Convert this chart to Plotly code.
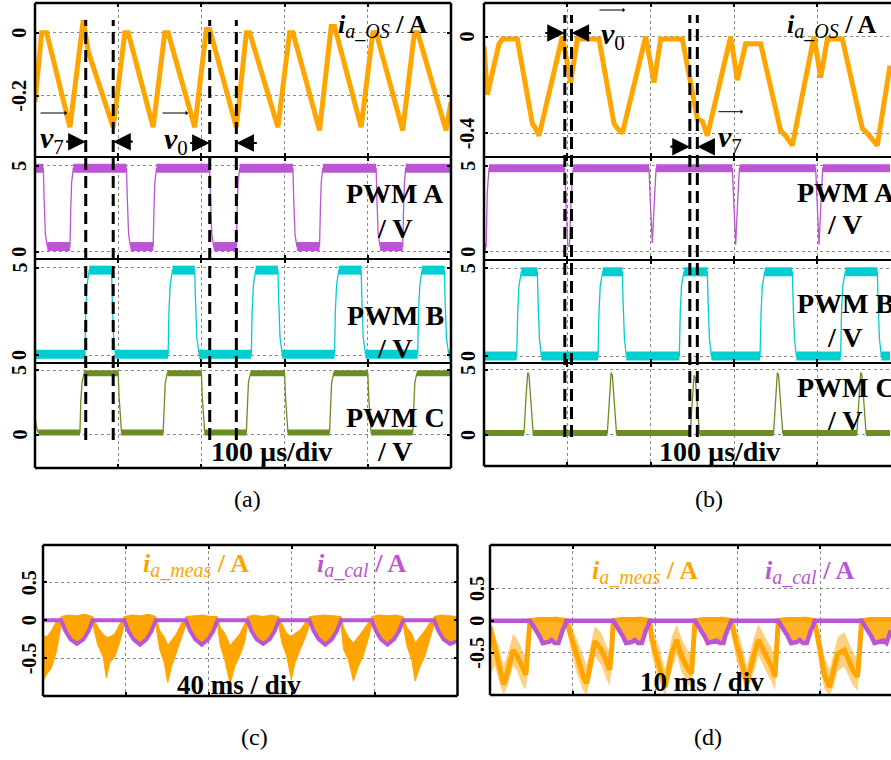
import plotly.graph_objects as go

W, H = 891, 760
SERIF = "Liberation Serif"
ORANGE = "#FFA500"
PURPLE = "#BA55D3"
CYAN = "#00CED1"
GREEN = "#6B8E23"

# ---------------- (a) 100 us/div, time in us ----------------
a_cur_t = [0, 8, 14, 42, 58, 64, 94, 108, 112, 142, 156, 160, 192, 206, 210, 242,
           254, 258, 292, 306, 310, 342, 356, 360, 392, 406, 410, 442, 456, 460, 494, 500]
a_cur_v = [-0.22, 0.0, 0.0, -0.30, 0.04, -0.06, -0.30, 0.0, 0.0, -0.30, 0.0, 0.0, -0.30, 0.01, 0.01, -0.30,
           0.0, 0.0, -0.30, 0.0, 0.0, -0.31, 0.02, 0.02, -0.30, 0.0, 0.0, -0.31, 0.0, 0.0, -0.31, -0.22]

a_pwmA_t = [0, 10, 11, 12.5, 14.8, 42, 43, 44, 46, 110, 111, 112.5, 114.8, 142, 143, 144, 146,
            210, 211, 212.5, 214.8, 242, 243, 244, 246, 310, 311, 312.5, 314.8, 342, 343, 344, 346,
            410, 411, 412.5, 414.8, 442, 443, 444, 445.5, 500]
a_pwmA_v = [4.85, 4.85, 3.0, 1.0, 0.3, 0.3, 2.5, 4.0, 4.85, 4.85, 3.0, 1.0, 0.3, 0.3, 2.5, 4.0, 4.85,
            4.85, 3.0, 1.0, 0.3, 0.3, 2.5, 4.0, 4.85, 4.85, 3.0, 1.0, 0.3, 0.3, 2.5, 4.0, 4.85,
            4.85, 3.0, 1.0, 0.3, 0.3, 2.5, 4.0, 4.85, 4.85]

a_pwmB_t = [0, 60, 61, 62.5, 65.2, 92, 93, 94.5, 96.5, 160, 161, 162.5, 165.2, 192, 193, 194.5, 197.2,
            260, 261, 262.5, 265.2, 292, 293, 294.5, 297.2, 360, 361, 362.5, 365.2, 392, 393, 394.5, 397.2,
            460, 461, 462.5, 465.2, 492, 493, 494.5, 497.2, 500]
a_pwmB_v = [0.05, 0.05, 2.5, 4.0, 4.85, 4.85, 3.0, 1.0, 0.05, 0.05, 2.5, 4.0, 4.85, 4.85, 3.0, 1.0, 0.05,
            0.05, 2.5, 4.0, 4.85, 4.85, 3.0, 1.0, 0.05, 0.05, 2.5, 4.0, 4.85, 4.85, 3.0, 1.0, 0.05,
            0.05, 2.5, 4.0, 4.85, 4.85, 3.0, 1.0, 0.05, 0.05]

a_pwmC_t = [0, 2, 4, 54, 55, 56.5, 59, 100, 101, 102.5, 104, 154, 155, 156.5, 159, 200, 201, 202.5, 204,
            254, 255, 256.5, 259, 300, 301, 302.5, 304, 354, 355, 356.5, 359, 400, 401, 402.5, 404,
            454, 455, 456.5, 459, 500]
a_pwmC_v = [1.4, 0.5, 0.15, 0.15, 2.5, 4.0, 4.75, 4.75, 3.0, 1.0, 0.15, 0.15, 2.5, 4.0, 4.75, 4.75, 3.0, 1.0, 0.15,
            0.15, 2.5, 4.0, 4.75, 4.75, 3.0, 1.0, 0.15, 0.15, 2.5, 4.0, 4.75, 4.75, 3.0, 1.0, 0.15,
            0.15, 2.5, 4.0, 4.75, 4.75]

a_marks_t = [61, 94, 210, 242]          # dashed cursor instants (us)

# ---------------- (b) 100 us/div, time in us ----------------
b_cur_t = [0, 4, 18, 22, 40, 58, 62, 66, 94, 104, 112, 138, 156, 160, 166, 194, 204, 212, 238,
           256, 262, 268, 296, 304, 314, 332, 356, 362, 370, 396, 404, 412, 430, 454, 460, 472, 487.2]
b_cur_v = [-0.04, -0.24, -0.03, -0.01, -0.01, -0.36, -0.38, -0.41, 0.0, -0.19, -0.01, -0.01, -0.36, -0.38,
           -0.40, 0.0, -0.19, -0.01, -0.01, -0.34, -0.35, -0.41, 0.0, -0.18, -0.03, -0.03, -0.39, -0.41,
           -0.45, 0.0, -0.17, -0.01, -0.01, -0.38, -0.40, -0.45, -0.12]

b_pwmA_t = [0, 2.5, 4, 6, 96.8, 98.5, 100.5, 102.5, 104.5, 107, 198, 199.5, 202, 204.5, 206.5,
            298, 299.5, 302, 304.5, 306.5, 398, 399.5, 402, 404.5, 406.5, 487.2]
b_pwmA_v = [0.3, 0.3, 3.5, 4.85, 4.85, 3.0, 0.35, 0.3, 3.0, 4.85, 4.85, 3.0, 0.5, 3.0, 4.85,
            4.85, 3.0, 0.4, 3.0, 4.85, 4.85, 3.0, 0.4, 3.0, 4.85, 4.85]

b_pwmB_t = [0, 39.2, 40.5, 42, 44.8, 64, 65, 66.5, 68.8, 136.8, 138, 139.5, 142.4, 166, 167, 168.5, 170.8,
            234.4, 235.5, 237, 240, 268, 269, 270.5, 272.8, 331.2, 332.5, 334, 336.8, 370, 371, 372.5, 374.8,
            428, 429, 430.5, 433.6, 472, 473, 474.5, 476.8, 487.2]
b_pwmB_v = [0.0, 0.0, 2.5, 4.0, 4.8, 4.8, 3.0, 1.0, 0.0, 0.0, 2.5, 4.0, 4.8, 4.8, 3.0, 1.0, 0.0,
            0.0, 2.5, 4.0, 4.8, 4.8, 3.0, 1.0, 0.0, 0.0, 2.5, 4.0, 4.8, 4.8, 3.0, 1.0, 0.0,
            0.0, 2.5, 4.0, 4.8, 4.8, 3.0, 1.0, 0.0, 0.0]

b_pwmC_t = [0, 48, 50.5, 52.5, 54, 56.5, 59, 148, 150.5, 152.5, 154, 156.5, 159,
            247.5, 250, 252, 253.5, 256, 258.5, 347.5, 350, 352, 353.5, 356, 358.5,
            447.5, 450, 452, 453.5, 456, 458.5, 487.2]
b_pwmC_v = [0.15, 0.15, 3.0, 4.8, 4.6, 2.0, 0.15, 0.15, 3.0, 4.8, 4.6, 2.0, 0.15,
            0.15, 3.0, 4.6, 4.4, 2.0, 0.15, 0.15, 3.0, 4.8, 4.6, 2.0, 0.15,
            0.15, 3.0, 4.8, 4.6, 2.0, 0.15, 0.15]

b_marks_t = [97, 105, 247, 256]

# ---------------- (c) 40 ms/div, time in ms ----------------
c_cal_t = [0, 8.8, 10.8, 13.3, 16.4, 19.5, 22.0, 24.0,
           39.2, 41.2, 43.7, 46.8, 49.9, 52.4, 54.4,
           69.0, 71.0, 73.5, 76.6, 79.7, 82.2, 84.2,
           98.6, 100.6, 103.1, 106.2, 109.3, 111.8, 113.8,
           128.6, 130.6, 133.1, 136.2, 139.3, 141.8, 143.8,
           158.6, 160.6, 163.1, 166.2, 169.3, 171.8, 173.8,
           188.8, 190.8, 193.3, 196.4, 200]
c_cal_v = [0, 0, -0.14, -0.25, -0.31, -0.25, -0.14, 0,
           0, -0.14, -0.25, -0.32, -0.25, -0.14, 0,
           0, -0.14, -0.25, -0.32, -0.25, -0.14, 0,
           0, -0.14, -0.25, -0.31, -0.25, -0.14, 0,
           0, -0.14, -0.25, -0.32, -0.25, -0.14, 0,
           0, -0.14, -0.25, -0.32, -0.25, -0.14, 0,
           0, -0.14, -0.25, -0.31, -0.27]

c_meas_t = [0, 1.6, 4, 6.4, 8.8, 12, 16, 20,
            24, 26.5, 29, 30.6, 32.2, 34.6, 37, 39.2, 43, 47, 51,
            54.4, 56.3, 58.5, 60.2, 62, 64.3, 66.7, 69, 73, 77, 81,
            84.2, 85.5, 87.7, 90.3, 92.5, 94.9, 97.3, 98.6, 102, 106, 110,
            113.8, 115.2, 117.6, 119.8, 121.6, 124, 126.4, 128.6, 132, 136, 140,
            143.8, 145, 147.3, 149.8, 152.1, 154.5, 157, 158.6, 162, 166, 170,
            173.8, 175.5, 177.9, 179.6, 181.9, 184.3, 186.7, 188.8, 192, 196, 200]
c_meas_hi = [-0.19, -0.22, -0.14, -0.02, 0.05, 0.07, 0.06, 0.08,
             0.05, -0.09, -0.18, -0.22, -0.22, -0.18, -0.05, 0.05, 0.07, 0.06, 0.08,
             0.05, -0.13, -0.22, -0.33, -0.26, -0.18, -0.05, 0.05, 0.06, 0.07, 0.05,
             0.05, -0.09, -0.17, -0.33, -0.26, -0.18, -0.05, 0.05, 0.07, 0.05, 0.07,
             0.05, -0.05, -0.17, -0.22, -0.17, -0.13, -0.04, 0.05, 0.06, 0.07, 0.06,
             0.05, -0.09, -0.22, -0.30, -0.22, -0.13, -0.03, 0.05, 0.07, 0.06, 0.07,
             0.05, -0.09, -0.17, -0.30, -0.22, -0.13, -0.03, 0.05, 0.07, 0.06, 0.05]
c_meas_lo = [-0.80, -0.72, -0.63, -0.42, -0.06, 0.0, 0.0, 0.0,
             -0.06, -0.33, -0.48, -0.76, -0.56, -0.48, -0.29, -0.06, 0.0, 0.0, 0.0,
             -0.06, -0.38, -0.56, -0.82, -0.61, -0.43, -0.25, -0.06, 0.0, 0.0, 0.0,
             -0.06, -0.33, -0.52, -0.84, -0.61, -0.47, -0.29, -0.06, 0.0, 0.0, 0.0,
             -0.06, -0.29, -0.47, -0.78, -0.56, -0.39, -0.24, -0.06, 0.0, 0.0, 0.0,
             -0.06, -0.38, -0.52, -0.80, -0.61, -0.47, -0.24, -0.06, 0.0, 0.0, 0.0,
             -0.06, -0.33, -0.52, -0.80, -0.61, -0.47, -0.24, -0.06, 0.0, 0.0, -0.05]

# ---------------- (d) 10 ms/div, time in ms ----------------
d_cal_t = [0, 4.84, 5.19, 5.59, 5.99, 6.39, 7.14, 7.44, 7.84, 8.29, 8.49, 8.79, 9.09, 9.24,
           14.93, 15.28, 15.68, 16.08, 16.48, 17.23, 17.53, 17.93, 18.38, 18.58, 18.88, 19.18, 19.33,
           24.82, 25.17, 25.57, 25.97, 26.37, 27.12, 27.42, 27.82, 28.27, 28.47, 28.77, 29.07, 29.22,
           34.9, 35.25, 35.65, 36.05, 36.45, 37.2, 37.5, 37.9, 38.35, 38.55, 38.85, 39.15, 39.3,
           45.0, 45.35, 45.75, 46.15, 46.55, 47.3, 47.6, 48.0, 48.3, 48.55]
d_cal_v = [0, 0, -0.07, -0.15, -0.24, -0.35, -0.33, -0.30, -0.35, -0.35, -0.24, -0.15, -0.07, 0,
           0, -0.07, -0.15, -0.24, -0.35, -0.33, -0.30, -0.35, -0.35, -0.24, -0.15, -0.07, 0,
           0, -0.07, -0.15, -0.24, -0.35, -0.33, -0.31, -0.35, -0.35, -0.24, -0.15, -0.07, 0,
           0, -0.07, -0.15, -0.24, -0.35, -0.33, -0.30, -0.35, -0.35, -0.24, -0.15, -0.07, 0,
           0, -0.07, -0.15, -0.24, -0.35, -0.33, -0.31, -0.35, -0.24, -0.15]

d_meas_t = [0, 0.6, 1.2, 1.65, 2.2, 2.8, 3.25, 3.65, 4.05, 4.35, 4.6, 4.84, 6.0, 7.0, 8.0,
            9.24, 9.7, 10.5, 11.3, 11.7, 12.3, 12.7, 13.5, 14.1, 14.5, 14.75, 14.93, 16.0, 17.1, 18.2,
            19.33, 19.6, 20.4, 21.2, 22.0, 22.6, 23.2, 24.0, 24.4, 24.65, 24.82, 26.0, 27.0, 28.1,
            29.22, 29.7, 30.3, 31.1, 31.9, 32.5, 33.3, 34.1, 34.5, 34.75, 34.9, 36.0, 37.1, 38.2,
            39.3, 39.9, 40.5, 41.1, 41.6, 42.1, 42.9, 43.9, 44.5, 44.8, 45.0, 46.3, 47.5, 48.55]
d_meas_mid = [-0.10, -0.46, -0.77, -1.00, -0.77, -0.46, -0.54, -0.67, -0.80, -0.85, -0.40, 0.0, 0.02, 0.02, 0.02,
              0.0, -0.20, -0.56, -0.88, -0.98, -0.56, -0.32, -0.46, -0.67, -0.77, -0.40, 0.0, 0.02, 0.02, 0.02,
              0.0, -0.30, -0.67, -1.04, -0.52, -0.30, -0.56, -0.77, -0.83, -0.40, 0.0, 0.02, 0.02, 0.02,
              0.0, -0.30, -0.56, -0.98, -0.56, -0.30, -0.52, -0.72, -0.88, -0.40, 0.0, 0.02, 0.02, 0.02,
              0.0, -0.45, -0.85, -1.04, -0.80, -0.52, -0.46, -0.77, -0.88, -0.40, 0.0, 0.02, 0.02, 0.02]
d_meas_hi = [0.02, -0.20, -0.45, -0.70, -0.50, -0.20, -0.28, -0.38, -0.50, -0.55, -0.10, 0.04, 0.06, 0.05, 0.07,
             0.04, -0.02, -0.28, -0.58, -0.70, -0.30, -0.08, -0.20, -0.40, -0.48, -0.10, 0.04, 0.06, 0.05, 0.07,
             0.04, -0.08, -0.38, -0.76, -0.26, -0.06, -0.28, -0.48, -0.55, -0.10, 0.04, 0.06, 0.05, 0.07,
             0.04, -0.08, -0.28, -0.70, -0.28, -0.06, -0.24, -0.44, -0.60, -0.10, 0.04, 0.06, 0.05, 0.07,
             0.04, -0.18, -0.56, -0.76, -0.52, -0.26, -0.18, -0.48, -0.60, -0.10, 0.04, 0.06, 0.05, 0.06]
d_meas_lo = [-0.85, -0.70, -1.00, -1.16, -1.00, -0.70, -0.78, -0.92, -1.04, -1.08, -0.70, -0.04, 0.0, 0.0, 0.0,
             -0.04, -0.42, -0.82, -1.10, -1.16, -0.82, -0.56, -0.70, -0.92, -1.02, -0.70, -0.04, 0.0, 0.0, 0.0,
             -0.04, -0.54, -0.92, -1.16, -0.78, -0.54, -0.80, -1.00, -1.06, -0.70, -0.04, 0.0, 0.0, 0.0,
             -0.04, -0.54, -0.82, -1.14, -0.82, -0.54, -0.76, -0.96, -1.10, -0.70, -0.04, 0.0, 0.0, 0.0,
             -0.04, -0.72, -1.08, -1.16, -1.04, -0.78, -0.72, -1.00, -1.10, -0.70, -0.04, 0.0, 0.0, 0.0]


def px(x):
    return x / W


def py(y):
    return 1 - y / H


def flat_runs(t, v):
    """Segments where the level is held constant (drawn as the thick noise band)."""
    xs, ys = [], []
    for i in range(len(t) - 1):
        if v[i] == v[i + 1]:
            xs += [t[i], t[i + 1], None]
            ys += [v[i], v[i + 1], None]
    return xs, ys


fig = go.Figure()
layout_axes = {}
ann = []

# subplot geometry: (id, x px span, y px span, x range, y range, x ticks, y ticks, y tick text, label x px)
panels = [
    ("1", (35, 451), (3, 157), [0, 500], [-0.3946, 0.0943], [100, 200, 300, 400], [0, -0.2], ["0", "-0.2"], 19),
    ("2", (35, 451), (157, 259), [0, 500], [-0.424, 5.506], [100, 200, 300, 400], [0, 5], ["0", "5"], 19),
    ("3", (35, 451), (259, 363), [0, 500], [-0.457, 5.486], [100, 200, 300, 400], [0, 5], ["0", "5"], 19),
    ("4", (35, 451), (363, 468), [0, 500], [-2.597, 5.543], [100, 200, 300, 400], [0, 5], ["0", "5"], 19),
    ("5", (484, 891), (3, 157), [0, 488.4], [-0.498, 0.139], [100, 200, 300, 400], [0, -0.4], ["0", "-0.4"], 467),
    ("6", (484, 891), (157, 260), [0, 488.4], [-0.483, 5.506], [100, 200, 300, 400], [0, 5], ["0", "5"], 468),
    ("7", (484, 891), (260, 363), [0, 488.4], [-0.399, 5.473], [100, 200, 300, 400], [0, 5], ["0", "5"], 468),
    ("8", (484, 891), (363, 466), [0, 488.4], [-2.385, 5.538], [100, 200, 300, 400], [0, 5], ["0", "5"], 468),
    ("9", (43, 457.5), (545, 696), [0, 200], [-0.996, 0.991], [40, 80, 120, 160], [-0.5, 0, 0.5], ["-0.5", "0", "0.5"], 29),
    ("10", (490, 891), (545, 695), [0, 48.55], [-1.165, 1.19], [10, 20, 30, 40], [-0.5, 0, 0.5], ["-0.5", "0", "0.5"], 477),
]

grid = dict(showgrid=True, gridcolor="#8a8a8a", griddash="dot", gridwidth=1.2, zeroline=False,
            showline=False, ticks="inside", ticklen=4, tickwidth=1.5, tickcolor="black", fixedrange=True)

for name, (x0, x1), (yt, yb), xr, yr, xt, yt_vals, yt_text, lab_x in panels:
    xa = "xaxis" if name == "1" else "xaxis" + name
    ya = "yaxis" if name == "1" else "yaxis" + name
    yref = "y" if name == "1" else "y" + name
    layout_axes[xa] = dict(grid, domain=[px(x0), min(px(x1), 1.0)], range=xr, tickvals=xt,
                           showticklabels=False, mirror="ticks",
                           anchor="y" if name == "1" else "y" + name)
    layout_axes[ya] = dict(grid, domain=[py(yb), py(yt)], range=yr, tickvals=yt_vals,
                           showticklabels=False, mirror="ticks" if x1 < W else False,
                           anchor="x" if name == "1" else "x" + name)
    # rotated value labels beside the left frame
    for val, txt in zip(yt_vals, yt_text):
        ann.append(dict(xref="paper", yref=yref, x=px(lab_x), y=val, text="<b>" + txt + "</b>",
                        textangle=-90, showarrow=False, xanchor="center", yanchor="middle",
                        font=dict(family=SERIF, size=20, color="black")))

# frame lines of every panel (drawn once so stacked traces share one separator)
shapes = []
border = dict(color="black", width=2.5)
sep = dict(color="black", width=2)
frames = [
    # (left, right, top, bottom, separators, closed right side)
    (35, 451, 3, 468, [157, 259, 363], True),
    (484, 895, 3, 466, [157, 260, 363], False),
    (43, 457.5, 545, 696, [], True),
    (490, 895, 545, 695, [], False),
]
for l, r, t, b, seps, closed in frames:
    shapes.append(dict(type="line", xref="paper", yref="paper", x0=px(l), x1=px(l), y0=py(b), y1=py(t), line=border))
    shapes.append(dict(type="line", xref="paper", yref="paper", x0=px(l), x1=px(r), y0=py(t), y1=py(t), line=border))
    shapes.append(dict(type="line", xref="paper", yref="paper", x0=px(l), x1=px(r), y0=py(b), y1=py(b), line=border))
    if closed:
        shapes.append(dict(type="line", xref="paper", yref="paper", x0=px(r), x1=px(r), y0=py(b), y1=py(t), line=border))
    for s in seps:
        shapes.append(dict(type="line", xref="paper", yref="paper", x0=px(l), x1=px(r), y0=py(s), y1=py(s), line=sep))


def ax_ids(name):
    return ("x" if name == "1" else "x" + name, "y" if name == "1" else "y" + name)


def add_pwm(t, v, color, name, band):
    xa, ya = ax_ids(name)
    fig.add_trace(go.Scatter(x=t, y=v, mode="lines", line=dict(color=color, width=1.3),
                             xaxis=xa, yaxis=ya, hoverinfo="skip"))
    fx, fy = flat_runs(t, v)
    fig.add_trace(go.Scatter(x=fx, y=fy, mode="lines", line=dict(color=color, width=band),
                             xaxis=xa, yaxis=ya, hoverinfo="skip"))


# (a)
fig.add_trace(go.Scatter(x=a_cur_t, y=a_cur_v, mode="lines", line=dict(color=ORANGE, width=5),
                         xaxis="x", yaxis="y", hoverinfo="skip"))
add_pwm(a_pwmA_t, a_pwmA_v, PURPLE, "2", 9)
add_pwm(a_pwmB_t, a_pwmB_v, CYAN, "3", 9)
add_pwm(a_pwmC_t, a_pwmC_v, GREEN, "4", 6)

# (b)
fig.add_trace(go.Scatter(x=b_cur_t, y=b_cur_v, mode="lines", line=dict(color=ORANGE, width=5),
                         xaxis="x5", yaxis="y5", hoverinfo="skip"))
add_pwm(b_pwmA_t, b_pwmA_v, PURPLE, "6", 8)
add_pwm(b_pwmB_t, b_pwmB_v, CYAN, "7", 9)
add_pwm(b_pwmC_t, b_pwmC_v, GREEN, "8", 6)

# (c) measured band, measured fill inside the calculated dips, calculated current
fig.add_trace(go.Scatter(x=c_meas_t + c_meas_t[::-1], y=c_meas_hi + c_meas_lo[::-1], mode="lines",
                         fill="toself", fillcolor=ORANGE, line=dict(color=ORANGE, width=1),
                         xaxis="x9", yaxis="y9", hoverinfo="skip"))
fig.add_trace(go.Scatter(x=c_cal_t, y=c_cal_v, mode="lines", fill="tozeroy", fillcolor=ORANGE,
                         line=dict(color=ORANGE, width=0), xaxis="x9", yaxis="y9", hoverinfo="skip"))
fig.add_trace(go.Scatter(x=c_cal_t, y=c_cal_v, mode="lines", line=dict(color=PURPLE, width=4),
                         xaxis="x9", yaxis="y9", hoverinfo="skip"))

# (d)
fig.add_trace(go.Scatter(x=d_meas_t + d_meas_t[::-1], y=d_meas_hi + d_meas_lo[::-1], mode="lines",
                         fill="toself", fillcolor="rgba(255,176,40,0.6)", line=dict(width=0),
                         xaxis="x10", yaxis="y10", hoverinfo="skip"))
fig.add_trace(go.Scatter(x=d_cal_t, y=d_cal_v, mode="lines", fill="tozeroy", fillcolor="rgba(255,165,0,0.85)",
                         line=dict(color=ORANGE, width=0), xaxis="x10", yaxis="y10", hoverinfo="skip"))
fig.add_trace(go.Scatter(x=d_meas_t, y=d_meas_mid, mode="lines", line=dict(color=ORANGE, width=5),
                         xaxis="x10", yaxis="y10", hoverinfo="skip"))
fig.add_trace(go.Scatter(x=d_cal_t, y=d_cal_v, mode="lines", line=dict(color=PURPLE, width=4.5),
                         xaxis="x10", yaxis="y10", hoverinfo="skip"))

# dashed cursors across the stacked traces
for t in a_marks_t:
    shapes.append(dict(type="line", xref="x", yref="paper", x0=t, x1=t, y0=py(440), y1=py(20),
                       line=dict(color="black", width=3, dash="12px,6px")))
for t in b_marks_t:
    shapes.append(dict(type="line", xref="x5", yref="paper", x0=t, x1=t, y0=py(437), y1=py(15),
                       line=dict(color="black", width=3, dash="12px,6px")))


def arrow(xref, x, ypx, dx, thin=False):
    ann.append(dict(xref=xref, yref="paper", x=x, y=py(ypx), ax=dx, ay=0, text="", showarrow=True,
                    arrowhead=2 if not thin else 1, arrowsize=1.6 if not thin else 0.8,
                    arrowwidth=2.2 if not thin else 1, arrowcolor="black", standoff=0))


def label(text, xpx, ypx, size, color="black", xanchor="center"):
    ann.append(dict(xref="paper", yref="paper", x=px(xpx), y=py(ypx), text=text, showarrow=False,
                    xanchor=xanchor, yanchor="middle",
                    font=dict(family=SERIF, size=size, color=color)))


# (a) interval arrows
arrow("x", a_marks_t[0], 141.7, -21)
arrow("x", a_marks_t[1], 141.7, 21)
arrow("x", a_marks_t[2], 143, -21)
arrow("x", a_marks_t[3], 143, 22)
arrow("paper", px(67), 113, -28, thin=True)
arrow("paper", px(188), 113, -27, thin=True)
# (b) interval arrows
arrow("x5", b_marks_t[0], 33, -21)
arrow("x5", b_marks_t[1], 33, 21)
arrow("paper", px(625), 10, -27, thin=True)
arrow("x5", b_marks_t[2], 146.7, -21)
arrow("x5", b_marks_t[3], 146.7, 14)
arrow("paper", px(743), 111.7, -26, thin=True)


def vec(sub):
    return "<b><i>v</i></b><sub><span style='font-size:21px'>" + sub + "</span></sub>"


def cur(sub):
    return ("<b><i>i</i></b><sub><span style='font-size:20px'><i>" + sub +
            "</i></span></sub><b> / A</b>")


label(vec("7"), 52, 140, 30)
label(vec("0"), 176, 141, 30)
label(vec("0"), 613, 36, 30)
label(vec("7"), 730, 139, 30)

label(cur("a_OS"), 382, 26, 26)
label(cur("a_OS"), 831, 26, 26)

label("<b>PWM A</b>", 395, 193, 28)
label("<b>/ V</b>", 395, 228, 28)
label("<b>PWM B</b>", 395, 315, 28)
label("<b>/ V</b>", 395, 348, 28)
label("<b>PWM C</b>", 395, 417, 28)
label("<b>/ V</b>", 395, 452, 28)
label("<b>100 µs/div</b>", 271, 452, 28)

label("<b>PWM A</b>", 795, 192, 28, xanchor="left")
label("<b>/ V</b>", 845, 225, 28)
label("<b>PWM B</b>", 795, 303, 28, xanchor="left")
label("<b>/ V</b>", 845, 337, 28)
label("<b>PWM C</b>", 795, 387, 28, xanchor="left")
label("<b>/ V</b>", 845, 420, 28)
label("<b>100 µs/div</b>", 719, 452, 28)

label(cur("a_meas"), 196, 565, 26, ORANGE)
label(cur("a_cal"), 361, 565, 26, PURPLE)
label("<b>40 ms / div</b>", 239, 685, 27)
label(cur("a_meas"), 645, 572, 26, ORANGE)
label(cur("a_cal"), 809, 572, 26, PURPLE)
label("<b>10 ms / div</b>", 702, 682, 27)

label("(a)", 247, 499, 24)
label("(b)", 709, 499, 24)
label("(c)", 255, 737, 24)
label("(d)", 708, 737, 24)

fig.update_layout(width=W, height=H, margin=dict(l=0, r=0, t=0, b=0), showlegend=False,
                  paper_bgcolor="white", plot_bgcolor="white", shapes=shapes, annotations=ann,
                  font=dict(family=SERIF), **layout_axes)

fig.write_html("out.html", config={"displayModeBar": False})
